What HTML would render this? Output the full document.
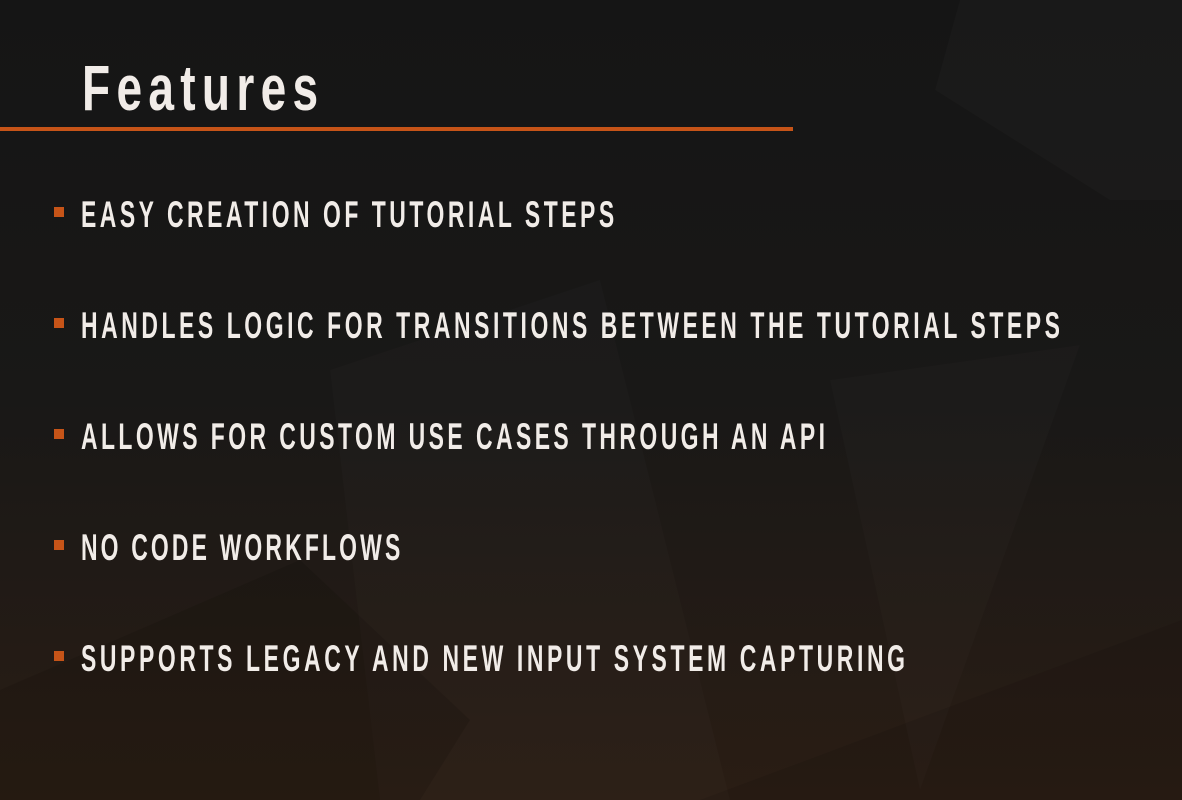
<!DOCTYPE html>
<html>
<head>
<meta charset="utf-8">
<style>
html,body{margin:0;padding:0;width:1182px;height:800px;overflow:hidden;background:#161616;}
svg{display:block;}
text{font-family:"Liberation Sans","DejaVu Sans",sans-serif;font-weight:bold;fill:#f1ece8;}
</style>
</head>
<body>
<svg width="1182" height="800" viewBox="0 0 1182 800" xmlns="http://www.w3.org/2000/svg">
<defs>
<linearGradient id="bg" x1="0" y1="0" x2="0" y2="1">
<stop offset="0" stop-color="#151515"/>
<stop offset="0.5" stop-color="#191817"/>
<stop offset="1" stop-color="#2a1d14"/>
</linearGradient>
</defs>
<rect width="1182" height="800" fill="url(#bg)"/>
<polygon points="935,90 960,0 1182,0 1182,200 1110,200" fill="#ffffff" opacity="0.018"/>
<polygon points="330,370 600,280 730,800 380,800" fill="#ffffff" opacity="0.014"/>
<polygon points="830,380 1080,345 920,790" fill="#ffffff" opacity="0.014"/>
<polygon points="0,690 300,560 470,720 420,800 0,800" fill="#000000" opacity="0.1"/>
<polygon points="700,800 1182,620 1182,800" fill="#000000" opacity="0.08"/>
<g transform="scale(0.72,1)">
<text x="113.9" y="110" font-size="64" textLength="328" lengthAdjust="spacing">Features</text>
</g>
<rect x="0" y="127" width="793" height="4" fill="#c65418"/>
<g fill="#c65418">
<rect x="54" y="207" width="10" height="10"/>
<rect x="54" y="318" width="10" height="10"/>
<rect x="54" y="429" width="10" height="10"/>
<rect x="54" y="540" width="10" height="10"/>
<rect x="54" y="651" width="10" height="10"/>
</g>
<g font-size="37" transform="scale(0.62,1)">
<text x="130.6" y="227" textLength="860" lengthAdjust="spacing">EASY CREATION OF TUTORIAL STEPS</text>
<text x="130.6" y="338" textLength="1579" lengthAdjust="spacing">HANDLES LOGIC FOR TRANSITIONS BETWEEN THE TUTORIAL STEPS</text>
<text x="130.6" y="449" textLength="1200" lengthAdjust="spacing">ALLOWS FOR CUSTOM USE CASES THROUGH AN API</text>
<text x="130.6" y="560" textLength="515" lengthAdjust="spacing">NO CODE WORKFLOWS</text>
<text x="130.6" y="671" textLength="1329" lengthAdjust="spacing">SUPPORTS LEGACY AND NEW INPUT SYSTEM CAPTURING</text>
</g>
</svg>
</body>
</html>
